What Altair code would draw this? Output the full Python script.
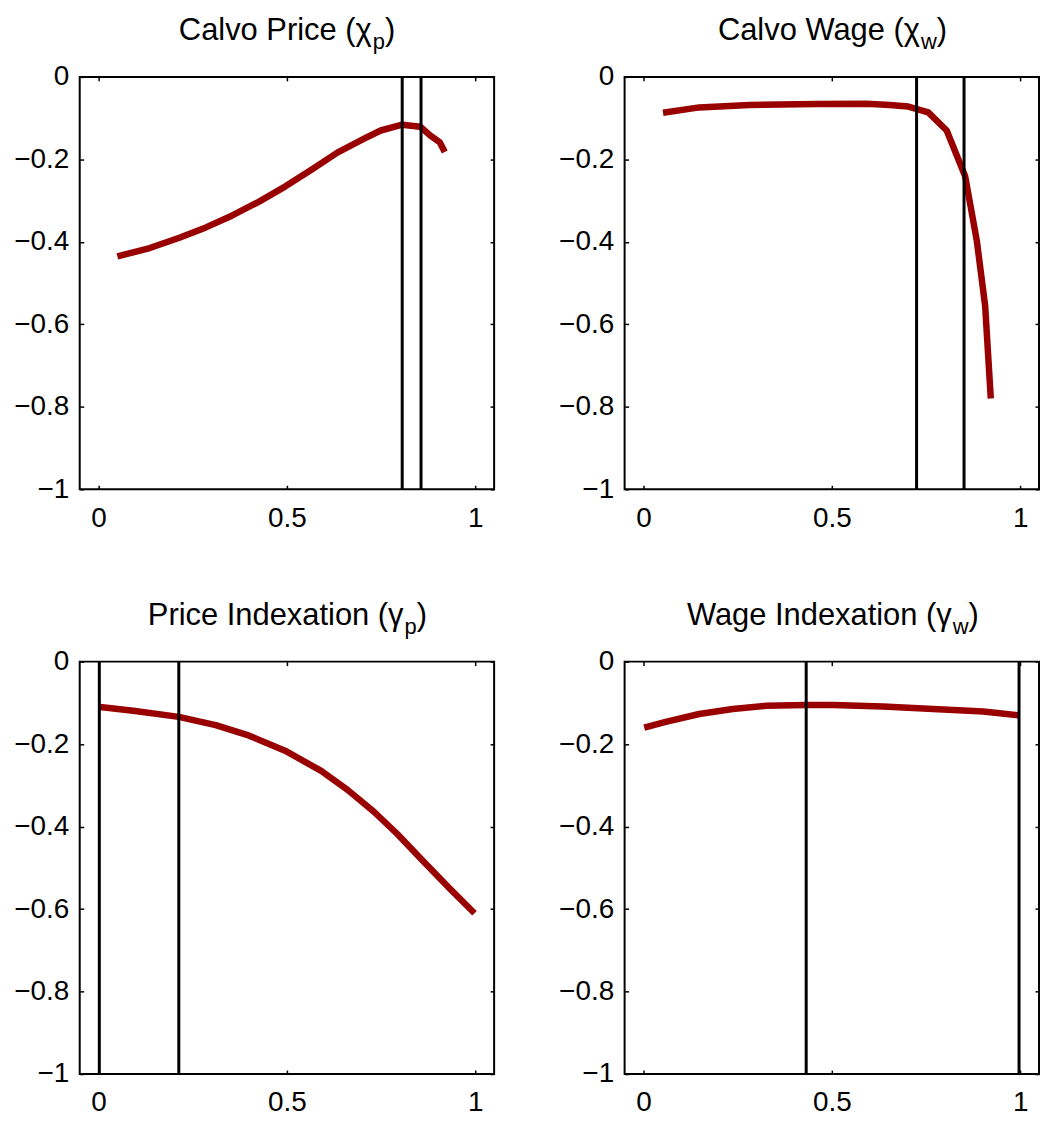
import altair as alt
import pandas as pd

# ---------------- data ----------------
TITLES_MAIN = ["Calvo Price (χ", "Calvo Wage (χ", "Price Indexation (γ", "Wage Indexation (γ"]
TITLES_SUB = ["p", "w", "p", "w"]

cp_x = [0.05, 0.136, 0.2145, 0.285, 0.355, 0.425, 0.495, 0.565, 0.635, 0.705, 0.749, 0.806, 0.854, 0.88, 0.906, 0.919]
cp_y = [-0.4355, -0.415, -0.390, -0.365, -0.336, -0.303, -0.266, -0.225, -0.183, -0.150, -0.130, -0.116, -0.121, -0.142, -0.159, -0.182]

cw_x = [0.052, 0.148, 0.281, 0.459, 0.592, 0.654, 0.703, 0.756, 0.805, 0.854, 0.885, 0.907, 0.922]
cw_y = [-0.087, -0.074, -0.068, -0.066, -0.065, -0.068, -0.072, -0.086, -0.130, -0.241, -0.398, -0.555, -0.780]

pi_x = [0.004, 0.092, 0.213, 0.311, 0.398, 0.495, 0.591, 0.661, 0.731, 0.793, 0.862, 0.932, 0.998]
pi_y = [-0.110, -0.119, -0.134, -0.154, -0.179, -0.216, -0.265, -0.311, -0.364, -0.418, -0.484, -0.550, -0.610]

wi_x = [0.002, 0.059, 0.148, 0.237, 0.326, 0.432, 0.503, 0.636, 0.769, 0.902, 0.996]
wi_y = [-0.160, -0.146, -0.127, -0.115, -0.107, -0.105, -0.105, -0.109, -0.115, -0.121, -0.130]

vlines = [[0.806, 0.856], [0.725, 0.851], [0.002, 0.213], [0.432, 0.997]]

X_TICKS = [0, 0.5, 1]
Y_TICKS = [0, -0.2, -0.4, -0.6, -0.8, -1]

SERIES_X = [cp_x, cw_x, pi_x, wi_x]
SERIES_Y = [cp_y, cw_y, pi_y, wi_y]

# ---------------- style ----------------
FONT = "Liberation Sans"
RED = "#990000"
W, H = 416, 414
TICK = 4
TITLE_FS = 31
SUB_FS = 22
LABEL_FS = 28

ARIAL = {'C': 722, 'a': 556, 'l': 222, 'v': 500, 'o': 556, ' ': 278, 'P': 667, 'r': 333,
         'i': 222, 'c': 500, 'e': 556, '(': 333, ')': 333, 'W': 944, 'g': 556, 'I': 278,
         'n': 556, 'd': 556, 'x': 500, 't': 278, 'p': 556, 'w': 722, 'χ': 500, 'γ': 500}


def text_w(s, fs):
    return sum(ARIAL.get(ch, 556) for ch in s) / 1000.0 * fs


def axis(orient, values, labels, pad=0, fmt="~g"):
    kw = dict(orient=orient, values=values, grid=False, title=None, domain=False,
              tickSize=TICK, offset=-TICK, tickColor="black", tickWidth=1.5)
    if labels:
        kw.update(format=fmt, labelPadding=pad, labelFont=FONT, labelFontSize=LABEL_FS,
                  labelColor="black")
    else:
        kw.update(labels=False)
    return alt.Axis(**kw)


def panel(i):
    df = pd.DataFrame({"x": SERIES_X[i], "y": SERIES_Y[i]})
    dv = pd.DataFrame({"x": vlines[i]})
    xs = alt.Scale(domain=[-0.05, 1.05], nice=False, zero=False)
    ys = alt.Scale(domain=[-1, 0], nice=False, zero=False)

    line = alt.Chart(df).mark_line(color=RED, strokeWidth=6.5, strokeCap="butt",
                                   strokeJoin="round").encode(
        x=alt.X("x:Q", scale=xs, axis=axis("bottom", X_TICKS, True, pad=15)),
        y=alt.Y("y:Q", scale=ys, axis=axis("left", Y_TICKS, True, pad=11)),
    )
    ghost = alt.Chart(df).mark_line(opacity=0).encode(
        x=alt.X("x:Q", scale=xs, axis=None),
        y=alt.Y("y:Q", scale=ys, axis=axis("right", Y_TICKS, False)),
    )
    rules = alt.Chart(dv).mark_rule(color="black", strokeWidth=3).encode(
        x=alt.X("x:Q", scale=xs, axis=axis("top", X_TICKS, False)),
    )

    main, sub = TITLES_MAIN[i], TITLES_SUB[i]
    wm = text_w(main, TITLE_FS)
    ws = text_w(sub, SUB_FS)
    wp = text_w(")", TITLE_FS)
    total = wm + ws + wp
    anchor = W / 2 - total / 2 + wm

    t_main = alt.Chart(pd.DataFrame({"t": [main]})).mark_text(
        align="right", baseline="alphabetic", font=FONT, fontSize=TITLE_FS, color="black"
    ).encode(text="t:N", x=alt.value(anchor), y=alt.value(-37))
    t_sub = alt.Chart(pd.DataFrame({"t": [sub]})).mark_text(
        align="left", baseline="alphabetic", font=FONT, fontSize=SUB_FS, color="black"
    ).encode(text="t:N", x=alt.value(anchor + 1), y=alt.value(-28))
    t_par = alt.Chart(pd.DataFrame({"t": [")"]})).mark_text(
        align="left", baseline="alphabetic", font=FONT, fontSize=TITLE_FS, color="black"
    ).encode(text="t:N", x=alt.value(anchor + ws + 1), y=alt.value(-37))

    return alt.layer(line, ghost, rules, t_main, t_sub, t_par).resolve_scale(
        x="shared", y="shared"
    ).resolve_axis(x="independent", y="independent").properties(width=W, height=H)


row1 = alt.hconcat(panel(0), panel(1), spacing=61)
row2 = alt.hconcat(panel(2), panel(3), spacing=61)
chart = alt.vconcat(row1, row2, spacing=66).properties(
    padding={"left": 4, "top": 4, "right": 0, "bottom": 0},
    background="white",
).configure_view(stroke="black", strokeWidth=2)

chart.save("out.html", embed_options={"renderer": "svg", "actions": False})
